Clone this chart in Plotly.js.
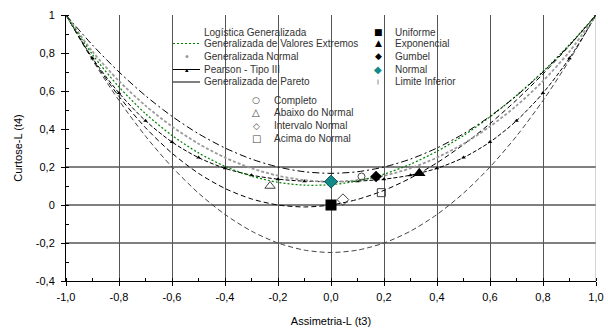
<!DOCTYPE html>
<html>
<head>
<meta charset="utf-8">
<script src="https://cdn.plot.ly/plotly-3.0.1.min.js"></script>
<style>html,body{margin:0;padding:0;background:#fff}#chart{width:608px;height:334px}</style>
</head>
<body>
<div id="chart"></div>
<script>
// L-skewness values (t3) at which the theoretical curves were read
const T3 = [-1, -0.9, -0.8, -0.7, -0.6, -0.5, -0.4, -0.3, -0.2, -0.1, 0, 0.1, 0.2, 0.3, 0.4, 0.5, 0.6, 0.7, 0.8, 0.9, 1];
// L-kurtosis (t4) of each distribution curve
const GLO = [1, 0.8417, 0.7, 0.575, 0.4667, 0.375, 0.3, 0.2417, 0.2, 0.175, 0.1667, 0.175, 0.2, 0.2417, 0.3, 0.375, 0.4667, 0.575, 0.7, 0.8417, 1];
const GEV = [1, 0.7916, 0.6214, 0.4808, 0.3661, 0.2743, 0.2034, 0.1521, 0.1193, 0.1045, 0.1070, 0.1265, 0.1626, 0.2148, 0.2827, 0.3658, 0.4638, 0.5762, 0.7029, 0.8443, 1];
const GNO = [1, 0.8077, 0.6526, 0.5227, 0.4133, 0.3226, 0.2495, 0.1935, 0.1540, 0.1306, 0.1228, 0.1306, 0.1540, 0.1935, 0.2495, 0.3226, 0.4133, 0.5227, 0.6526, 0.8077, 1];
const PE3 = [1, 0.7729, 0.5894, 0.4435, 0.3314, 0.2494, 0.1929, 0.1569, 0.1359, 0.1255, 0.1224, 0.1255, 0.1359, 0.1569, 0.1929, 0.2494, 0.3314, 0.4435, 0.5894, 0.7729, 1];
const GPA = [1, 0.7683, 0.5714, 0.4070, 0.2727, 0.1667, 0.0870, 0.0319, 0, -0.0102, 0, 0.0294, 0.0769, 0.1415, 0.2222, 0.3182, 0.4286, 0.5526, 0.6897, 0.8390, 1];
const LIM = [1, 0.7625, 0.55, 0.3625, 0.2, 0.0625, -0.05, -0.1375, -0.2, -0.2375, -0.25, -0.2375, -0.2, -0.1375, -0.05, 0.0625, 0.2, 0.3625, 0.55, 0.7625, 1];

// single distribution points [t3, t4]
const UNIFORME = [0, 0];
const EXPONENCIAL = [0.333, 0.167];
const GUMBEL = [0.17, 0.15];
const NORMAL = [0, 0.123];
// sample groups [t3, t4]
const COMPLETO = [0.115, 0.15];
const ABAIXO = [-0.23, 0.10];
const INTERVALO = [0.045, 0.028];
const ACIMA = [0.19, 0.065];

// labels
const LEG1 = ['Logística Generalizada', 'Generalizada de Valores Extremos', 'Generalizada Normal', 'Pearson - Tipo III', 'Generalizada de Pareto'];
const LEG2 = ['Uniforme', 'Exponencial', 'Gumbel', 'Normal', 'Limite Inferior'];
const LEG3 = ['Completo', 'Abaixo do Normal', 'Intervalo Normal', 'Acima do Normal'];
const XTICKS = [-1, -0.8, -0.6, -0.4, -0.2, 0, 0.2, 0.4, 0.6, 0.8, 1];
const XTEXT = ['-1,0', '-0,8', '-0,6', '-0,4', '-0,2', '0,0', '0,2', '0,4', '0,6', '0,8', '1,0'];
const YTICKS = [-0.4, -0.2, 0, 0.2, 0.4, 0.6, 0.8, 1];
const YTEXT = ['-0,4', '-0,2', '0', '0,2', '0,4', '0,6', '0,8', '1'];
const HGRID = [0.2, 0, -0.2];

const FONT = 'Liberation Sans, Arial, sans-serif';
const W = 608, H = 334, ML = 66, MR = 12, MT = 15, MB = 53;
const PW = W - ML - MR, PH = H - MT - MB;
const px = v => (v - ML) / PW;
const py = v => (H - MB - v) / PH;

function curve(y, color, dash, width, extra) {
  return Object.assign({x: T3, y: y, type: 'scatter', mode: 'lines', line: {color: color, dash: dash, width: width, shape: 'spline', smoothing: 0.8}, hoverinfo: 'skip'}, extra || {});
}
function pt(p, symbol, size, color, line) {
  return {x: [p[0]], y: [p[1]], type: 'scatter', mode: 'markers', marker: {symbol: symbol, size: size, color: color, line: line || {width: 0}}, hoverinfo: 'skip'};
}

const data = [
  curve(LIM, '#444', '5px,3px', 1),
  curve(GPA, '#000', '5px,3px', 1),
  curve(PE3, '#000', '4px,2px', 1, {mode: 'lines+markers', marker: {symbol: 'triangle-up', size: 4, color: '#000'}}),
  curve(GNO, '#9a9a9a', '3px,2px', 1.8),
  curve(GEV, '#008000', '2px,2px', 1.2),
  curve(GLO, '#000', '7px,3px,2px,3px', 1),
  pt(UNIFORME, 'square', 11, '#000'),
  pt(EXPONENCIAL, 'triangle-up', 11, '#000'),
  pt(GUMBEL, 'diamond', 9, '#000'),
  pt(NORMAL, 'diamond', 10, '#138a8a', {width: 1, color: '#0b4f4f'}),
  pt(COMPLETO, 'circle-open', 7, '#444', {width: 1}),
  pt(ABAIXO, 'triangle-up-open', 9, '#444', {width: 1}),
  pt(INTERVALO, 'diamond-open', 9, '#444', {width: 1}),
  pt(ACIMA, 'square-open', 8, '#444', {width: 1})
];

const shapes = [];
HGRID.forEach(v => shapes.push({type: 'line', xref: 'paper', yref: 'y', x0: 0, x1: 1, y0: v, y1: v, line: {color: '#000', width: 1}, layer: 'below'}));
shapes.push({type: 'line', xref: 'x', yref: 'paper', x0: 1, x1: 1, y0: 0, y1: 1, line: {color: '#aaa', width: 1}, layer: 'below'});
// white legend backgrounds that hide the grid
shapes.push({type: 'rect', xref: 'paper', yref: 'paper', x0: px(163), x1: px(442), y0: py(94), y1: py(0), fillcolor: '#fff', line: {width: 0}, layer: 'between'});
shapes.push({type: 'rect', xref: 'paper', yref: 'paper', x0: px(250), x1: px(366), y0: py(146), y1: py(94), fillcolor: '#fff', line: {width: 0}, layer: 'between'});

const rows1 = [32, 43.5, 56.5, 69.5, 82];
const rows3 = [100, 112.5, 125.5, 138];
// legend samples column 1
shapes.push({type: 'line', xref: 'paper', yref: 'paper', x0: px(173), x1: px(200), y0: py(rows1[1]), y1: py(rows1[1]), line: {color: '#008000', width: 1.2, dash: '2px,2px'}});
shapes.push({type: 'circle', xref: 'paper', yref: 'paper', x0: px(185.5), x1: px(188.5), y0: py(rows1[2] + 1.5), y1: py(rows1[2] - 1.5), fillcolor: '#999', line: {width: 0}});
shapes.push({type: 'line', xref: 'paper', yref: 'paper', x0: px(173), x1: px(200), y0: py(rows1[3]), y1: py(rows1[3]), line: {color: '#000', width: 1}});
shapes.push({type: 'line', xref: 'paper', yref: 'paper', x0: px(173), x1: px(200), y0: py(rows1[4]), y1: py(rows1[4]), line: {color: '#000', width: 1}});
shapes.push({type: 'line', xref: 'paper', yref: 'paper', x0: px(378), x1: px(378), y0: py(rows1[4] + 2.5), y1: py(rows1[4] - 2.5), line: {color: '#888', width: 1}});

const annotations = [];
const txt = (x, y, t, size, color, fam) => annotations.push({xref: 'paper', yref: 'paper', x: px(x), y: py(y), text: t, showarrow: false, xanchor: 'left', yanchor: 'middle', font: {family: fam || FONT, size: size, color: color}});
const glyph = (x, y, t, size, color) => annotations.push({xref: 'paper', yref: 'paper', x: px(x), y: py(y), text: t, showarrow: false, xanchor: 'center', yanchor: 'middle', font: {family: 'DejaVu Sans', size: size, color: color}});
LEG1.forEach((t, i) => txt(202, rows1[i], t, 10, '#333'));
LEG2.forEach((t, i) => txt(393, rows1[i], t, 10, '#333'));
LEG3.forEach((t, i) => txt(272, rows3[i], t, 10, '#333'));
glyph(187, rows1[3], '▴', 7, '#000');
glyph(378, rows1[0], '■', 9, '#000');
glyph(378, rows1[1], '▲', 9, '#000');
glyph(378, rows1[2], '◆', 9, '#000');
glyph(378, rows1[3], '◆', 10, '#138a8a');
glyph(256, rows3[0], '○', 9, '#444');
glyph(256, rows3[1], '△', 10, '#444');
glyph(256, rows3[2], '◇', 9, '#444');
glyph(256, rows3[3], '□', 10, '#444');

const layout = {
  width: W, height: H,
  margin: {l: ML, r: MR, t: MT, b: MB},
  paper_bgcolor: '#fff', plot_bgcolor: '#fff',
  showlegend: false,
  font: {family: FONT, size: 11, color: '#000'},
  xaxis: {
    range: [-1, 1], tickmode: 'array', tickvals: XTICKS, ticktext: XTEXT,
    ticks: 'outside', ticklen: 4, tickcolor: '#000', ticklabelstandoff: 2,
    showgrid: true, gridcolor: '#555', gridwidth: 1, zeroline: false,
    showline: true, linecolor: '#000', linewidth: 1,
    minor: {dtick: 0.1, tick0: 0, ticks: 'inside', ticklen: 3, tickcolor: '#000', showgrid: false},
    tickfont: {size: 11}, fixedrange: true,
    title: {text: 'Assimetria-L (t3)', font: {size: 11}, standoff: 15}
  },
  yaxis: {
    range: [-0.4, 1], tickmode: 'array', tickvals: YTICKS, ticktext: YTEXT,
    ticks: 'outside', ticklen: 4, tickcolor: '#000', ticklabelstandoff: 4,
    showgrid: false, zeroline: false,
    showline: true, linecolor: '#000', linewidth: 1,
    minor: {dtick: 0.1, tick0: 0, ticks: 'inside', ticklen: 3, tickcolor: '#000', showgrid: false},
    tickfont: {size: 11}, fixedrange: true,
    title: {text: 'Curtose-L (t4)', font: {size: 11}, standoff: 10}
  },
  shapes: shapes,
  annotations: annotations
};

Plotly.newPlot('chart', data, layout, {staticPlot: true, displayModeBar: false});
</script>
</body>
</html>
